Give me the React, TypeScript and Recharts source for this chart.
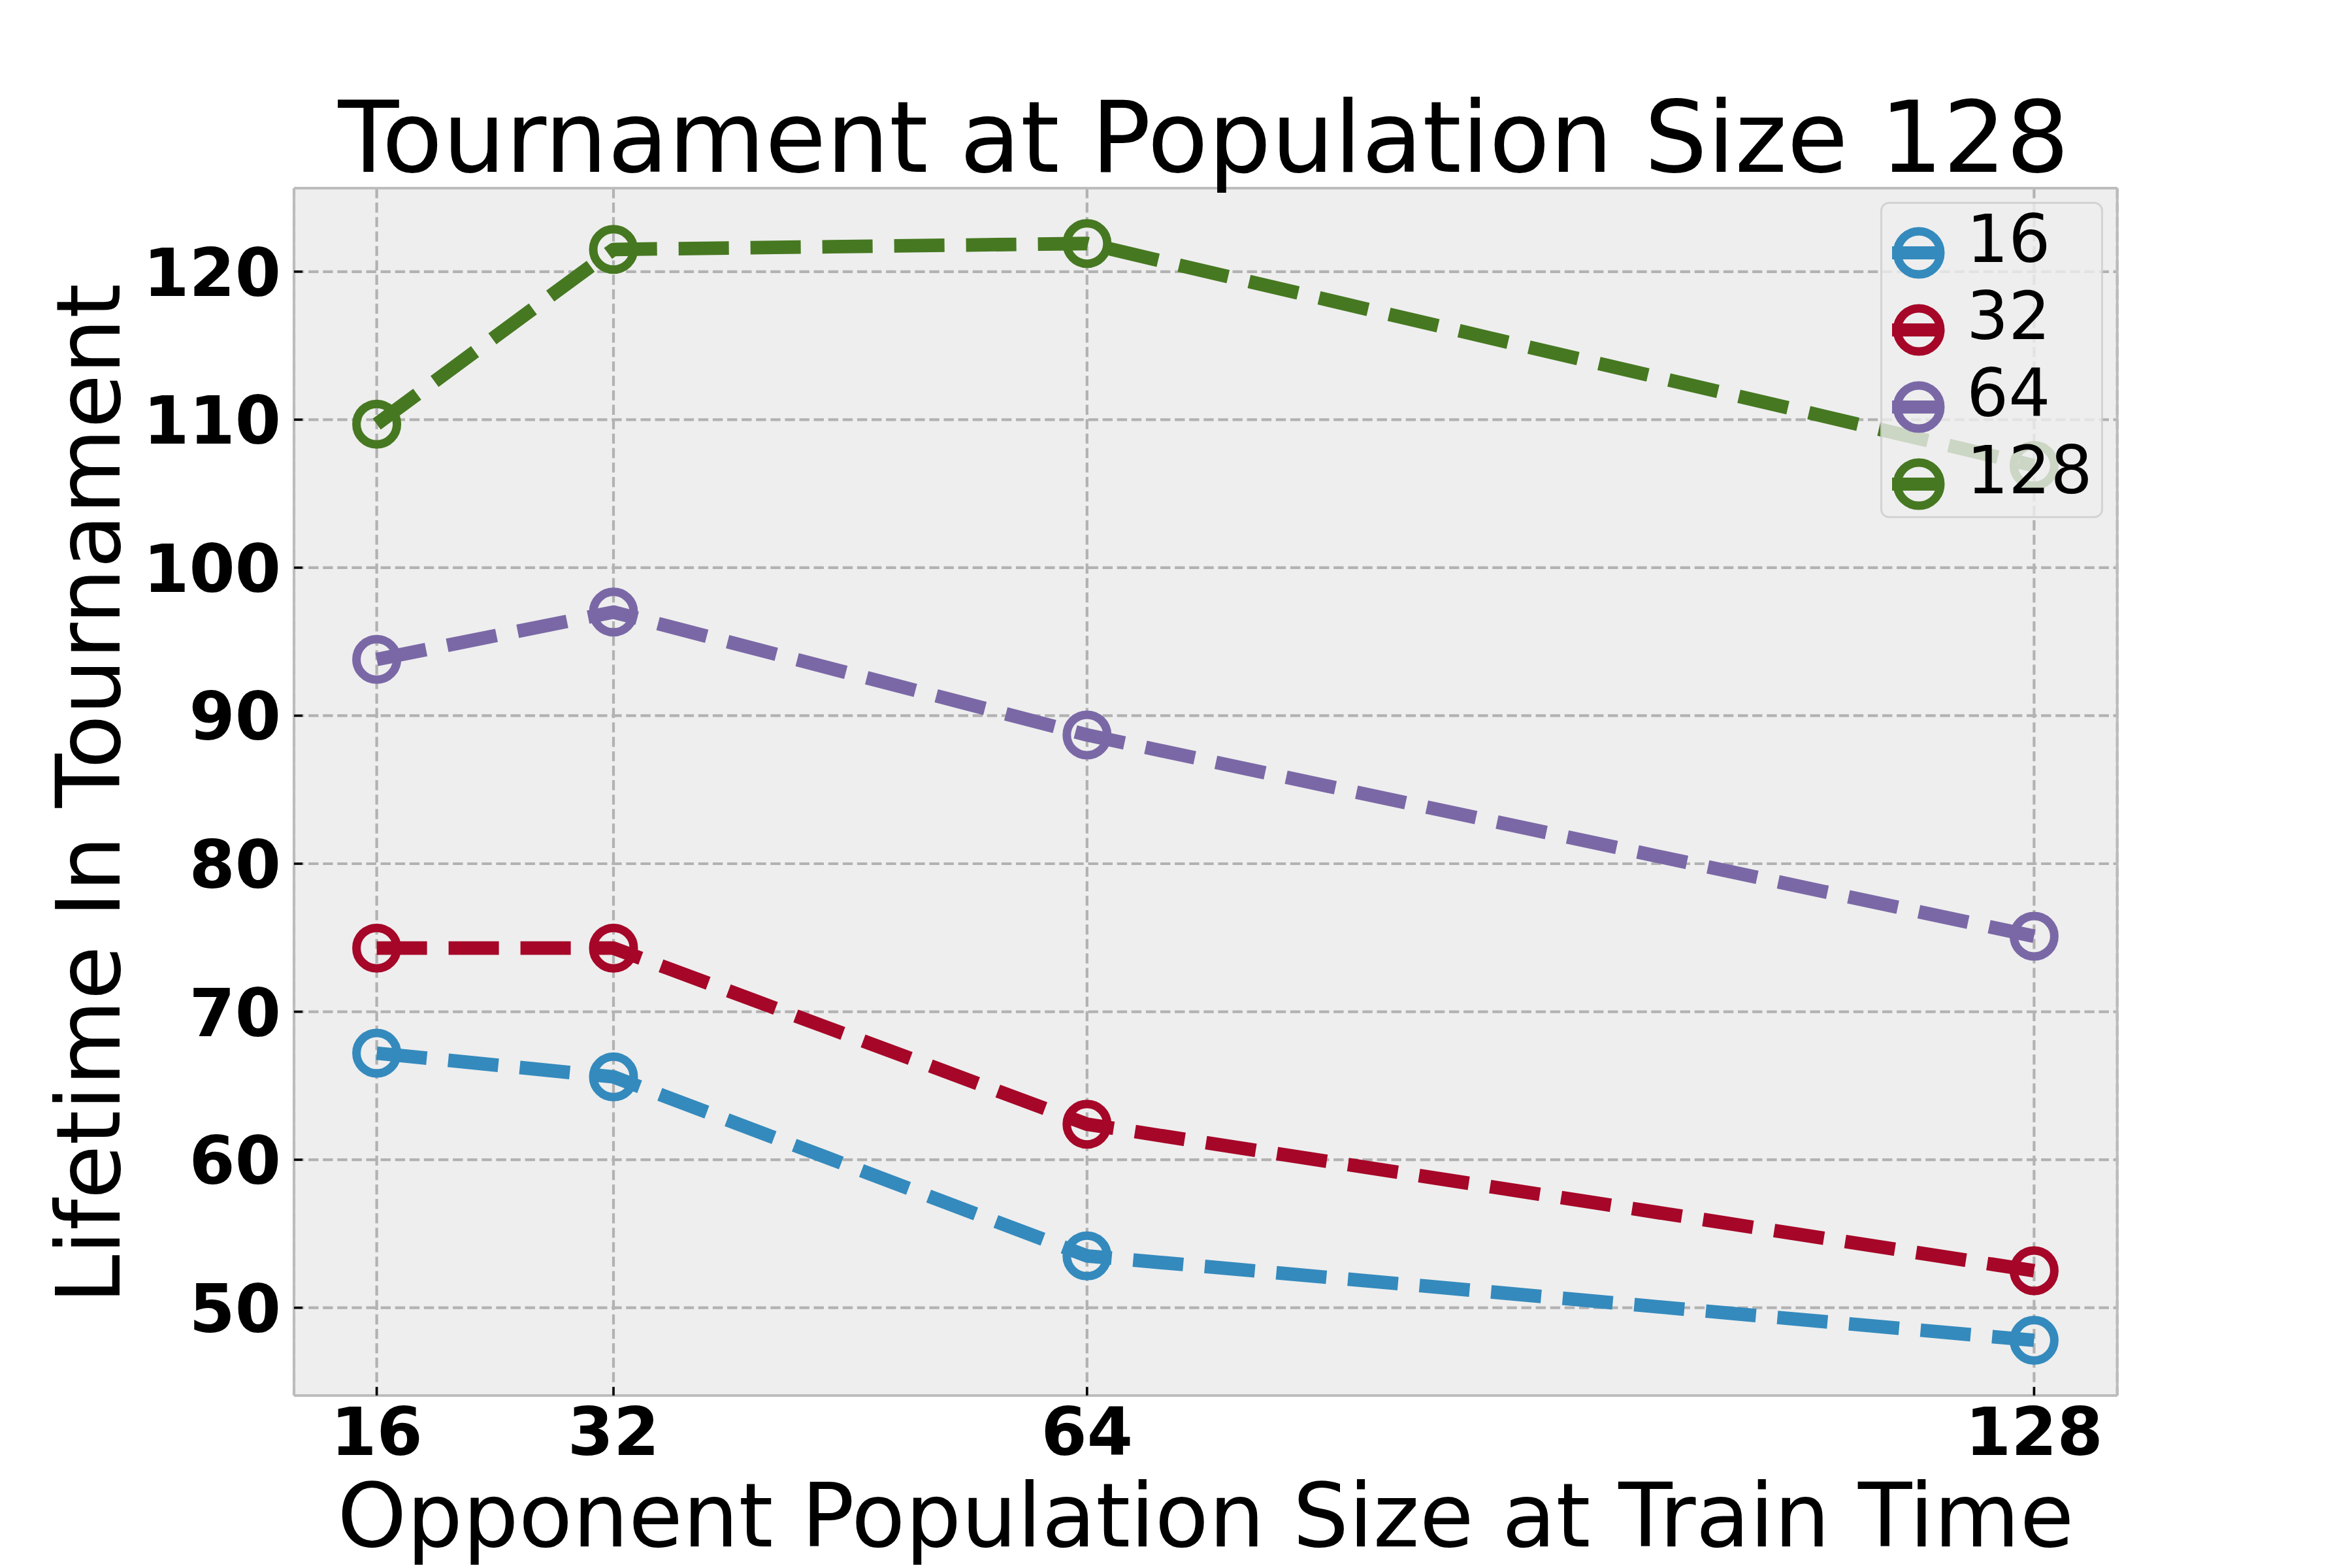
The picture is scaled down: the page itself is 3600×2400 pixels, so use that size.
import React from 'react';
import { LineChart, Line, XAxis, YAxis, CartesianGrid, Legend } from 'recharts';

// ---- data ----
const categories = [16, 32, 64, 128];
const pop16 = [67.2, 65.6, 53.5, 47.8];
const pop32 = [74.3, 74.3, 62.4, 52.5];
const pop64 = [93.8, 97.0, 88.7, 75.1];
const pop128 = [109.7, 121.5, 121.9, 106.9];
const seriesNames = ['16', '32', '64', '128'];
const seriesKeys = ['p16', 'p32', 'p64', 'p128'];
const seriesValues = [pop16, pop32, pop64, pop128];
const xTicks = [16, 32, 64, 128];
const yTicks = [50, 60, 70, 80, 90, 100, 110, 120];
const xDomain = [10.41, 133.62];
const yDomain = [44.07, 125.64];

const titleText = 'Tournament at Population Size 128';
const xLabelText = 'Opponent Population Size at Train Time';
const yLabelText = 'Lifetime In Tournament';

// ---- styles ----
const colors = ['#348ABD', '#A60628', '#7A68A6', '#467821'];
const FONT = '"DejaVu Sans", sans-serif';
const W = 3600;
const H = 2400;
const PLOT_L = 450;
const PLOT_R = 3240.7;
const PLOT_T = 288;
const PLOT_B = 2136;
const PLOT_CX = (PLOT_L + PLOT_R) / 2;
const PLOT_CY = (PLOT_T + PLOT_B) / 2;
const AX_LEFT_W = 100;
const AX_BOTTOM_H = 100;
const AX_TOP_H = 10;
const AX_RIGHT_W = 10;

const data = categories.map((c, i) => {
  const row: Record<string, number> = { x: c };
  seriesKeys.forEach((k, j) => {
    row[k] = seriesValues[j][i];
  });
  return row;
});

const YTick = (props: any) => {
  const { y, payload } = props;
  return (
    <g>
      <line x1={PLOT_L} x2={PLOT_L + 13} y1={y} y2={y} stroke="#000" strokeWidth={3.5} />
      <text x={PLOT_L - 20} y={y + 37} textAnchor="end" fontFamily={FONT} fontWeight="bold" fontSize={101} fill="#000">
        {payload.value}
      </text>
    </g>
  );
};

const XTick = (props: any) => {
  const { x, payload } = props;
  return (
    <g>
      <line x1={x} x2={x} y1={PLOT_B} y2={PLOT_B - 13} stroke="#000" strokeWidth={3.5} />
      <text x={x} y={2227} textAnchor="middle" fontFamily={FONT} fontWeight="bold" fontSize={101} fill="#000">
        {payload.value}
      </text>
    </g>
  );
};

const TitleLabel = () => (
  <text x={PLOT_CX - 3} y={263} textAnchor="middle" fontFamily={FONT} fontSize={152} fill="#000">
    {titleText}
  </text>
);

const XLabel = () => (
  <text x={PLOT_CX} y={2367} textAnchor="middle" fontFamily={FONT} fontSize={135} fill="#000">
    {xLabelText}
  </text>
);

const YLabel = () => (
  <text
    x={183}
    y={PLOT_CY + 3}
    transform={`rotate(-90, 183, ${PLOT_CY + 3})`}
    textAnchor="middle"
    fontFamily={FONT}
    fontSize={135}
    fill="#000"
  >
    {yLabelText}
  </text>
);

const LEG_X = 2878;
const LEG_Y = 309;
const LEG_W = 341;
const LEG_H = 484;
const LEG_PAD = 30;

const LegendBox = () => (
  <svg
    width={LEG_W + 2 * LEG_PAD}
    height={LEG_H + 2 * LEG_PAD}
    style={{ display: 'block', overflow: 'visible' }}
  >
    <g transform={`translate(${LEG_PAD}, ${LEG_PAD})`}>
      <rect
        x={1.5}
        y={1.5}
        width={LEG_W - 3}
        height={LEG_H - 3}
        rx={12}
        ry={12}
        fill="#eeeeee"
        fillOpacity={0.8}
        stroke="#cccccc"
        strokeOpacity={0.8}
        strokeWidth={3}
      />
      {seriesNames.map((name, i) => {
        const cy = 78 + 118 * i;
        return (
          <g key={name}>
            <line x1={18} x2={88} y1={cy} y2={cy} stroke={colors[i]} strokeWidth={20} />
            <circle cx={59} cy={cy} r={33} fill="none" stroke={colors[i]} strokeWidth={13} />
            <text x={132} y={92 + 118 * i} fontFamily={FONT} fontSize={101} fill="#000">
              {name}
            </text>
          </g>
        );
      })}
    </g>
  </svg>
);

export default function App() {
  return (
    <div style={{ position: 'absolute', left: 0, top: 0, width: W, height: H, background: '#fff' }}>
      <LineChart
        width={W}
        height={H}
        data={data}
        margin={{
          top: PLOT_T - AX_TOP_H,
          right: W - PLOT_R - AX_RIGHT_W,
          bottom: H - PLOT_B - AX_BOTTOM_H,
          left: PLOT_L - AX_LEFT_W,
        }}
      >
        <CartesianGrid
          fill="#eeeeee"
          fillOpacity={1}
          stroke="#b2b2b2"
          strokeWidth={4.2}
          strokeDasharray="15.4 6.7"
        />
        <XAxis
          dataKey="x"
          type="number"
          domain={xDomain}
          ticks={xTicks}
          interval={0}
          height={AX_BOTTOM_H}
          allowDataOverflow
          axisLine={{ stroke: '#bcbcbc', strokeWidth: 4 }}
          tickLine={false}
          tick={<XTick />}
          label={<XLabel />}
        />
        <XAxis
          xAxisId="top"
          orientation="top"
          type="number"
          domain={xDomain}
          allowDataOverflow
          height={AX_TOP_H}
          axisLine={{ stroke: '#bcbcbc', strokeWidth: 4 }}
          tickLine={false}
          tick={false}
          label={<TitleLabel />}
        />
        <YAxis
          type="number"
          domain={yDomain}
          ticks={yTicks}
          interval={0}
          width={AX_LEFT_W}
          allowDataOverflow
          axisLine={{ stroke: '#bcbcbc', strokeWidth: 4 }}
          tickLine={false}
          tick={<YTick />}
          label={<YLabel />}
        />
        <YAxis
          yAxisId="right"
          orientation="right"
          type="number"
          domain={yDomain}
          allowDataOverflow
          width={AX_RIGHT_W}
          axisLine={{ stroke: '#bcbcbc', strokeWidth: 4 }}
          tickLine={false}
          tick={false}
        />
        {seriesKeys.map((k, i) => (
          <Line
            key={k}
            dataKey={k}
            name={seriesNames[i]}
            type="linear"
            stroke={colors[i]}
            strokeWidth={20.8}
            strokeDasharray="77 33"
            strokeLinejoin="round"
            dot={{ r: 31, stroke: colors[i], strokeWidth: 13, fill: 'none', strokeDasharray: '' }}
            activeDot={false}
            isAnimationActive={false}
          />
        ))}
        <Legend
          layout="vertical"
          align="center"
          verticalAlign="middle"
          content={() => <LegendBox />}
          wrapperStyle={{
            position: 'absolute',
            left: LEG_X - LEG_PAD,
            top: LEG_Y - LEG_PAD,
            width: LEG_W + 2 * LEG_PAD,
            height: LEG_H + 2 * LEG_PAD,
          }}
        />
      </LineChart>
    </div>
  );
}
